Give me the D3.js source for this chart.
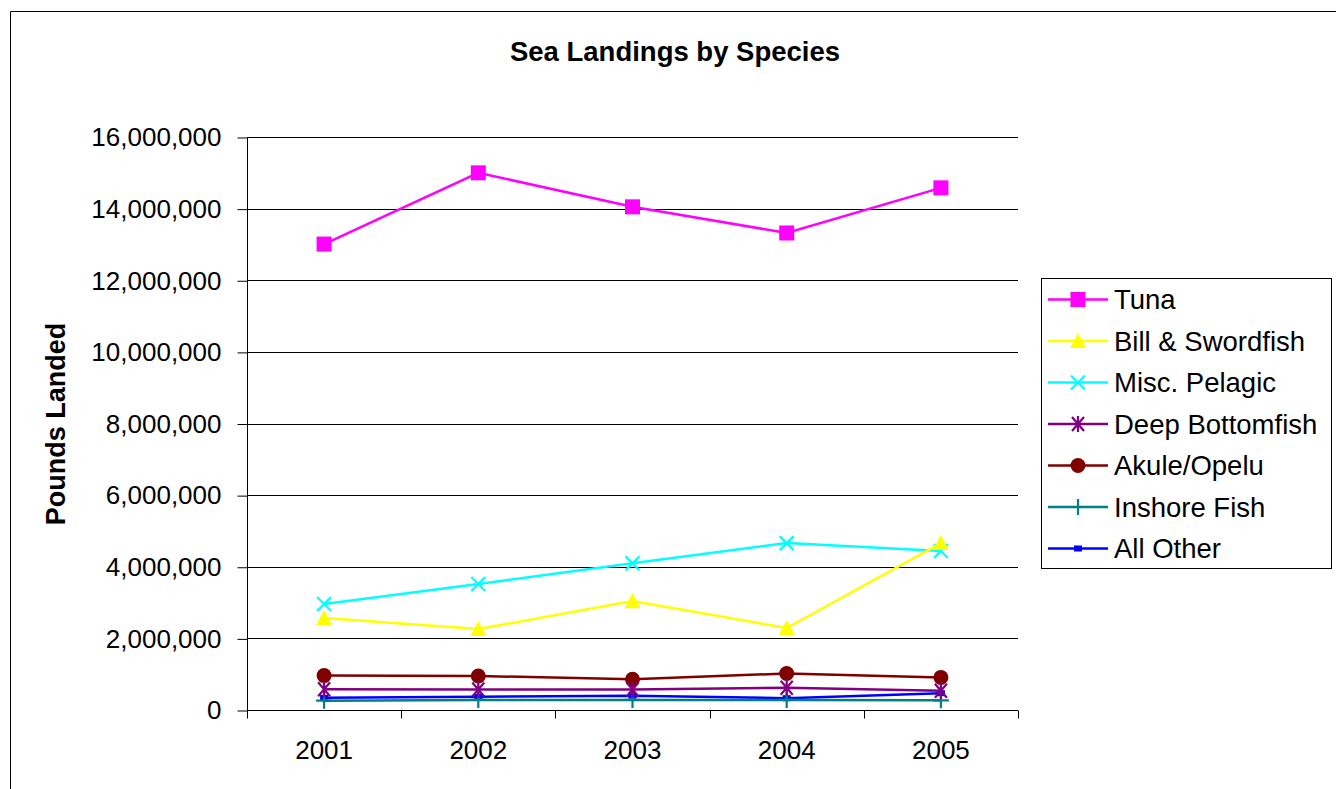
<!DOCTYPE html>
<html>
<head>
<meta charset="utf-8">
<script src="https://cdn.jsdelivr.net/npm/d3@7"></script>
<style>
  body { margin: 0; background: #fff; }
  svg { display: block; font-family: "Liberation Sans", Arial, sans-serif; }
</style>
</head>
<body>
<svg id="chart" width="1336" height="789"></svg>
<script>
// Landings data (pounds) by year
const years = ["2001", "2002", "2003", "2004", "2005"];
const tuna = [13010000, 15000000, 14050000, 13320000, 14580000];
const billSwordfish = [2570000, 2260000, 3040000, 2290000, 4660000];
const miscPelagic = [2960000, 3520000, 4100000, 4660000, 4440000];
const deepBottomfish = [580000, 570000, 570000, 620000, 540000];
const akuleOpelu = [960000, 950000, 860000, 1020000, 910000];
const inshoreFish = [260000, 280000, 280000, 280000, 270000];
const allOther = [340000, 370000, 400000, 330000, 470000];
const yTicks = [0, 2000000, 4000000, 6000000, 8000000, 10000000, 12000000, 14000000, 16000000];

const series = [
  { name: "Tuna", values: tuna, color: "#FF00FF", marker: "square" },
  { name: "Bill & Swordfish", values: billSwordfish, color: "#FFFF00", marker: "triangle" },
  { name: "Misc. Pelagic", values: miscPelagic, color: "#00FFFF", marker: "x" },
  { name: "Deep Bottomfish", values: deepBottomfish, color: "#800080", marker: "star" },
  { name: "Akule/Opelu", values: akuleOpelu, color: "#800000", marker: "circle" },
  { name: "Inshore Fish", values: inshoreFish, color: "#008080", marker: "plus" },
  { name: "All Other", values: allOther, color: "#0000FF", marker: "smallsquare" }
];

const svg = d3.select("#chart");
const plot = { left: 247, right: 1018, top: 137, bottom: 710 };

// Outer chart frame
svg.append("path")
  .attr("d", "M10.5,789 L10.5,11.5 L1336,11.5")
  .attr("fill", "none").attr("stroke", "#000").attr("stroke-width", 1);

// Title
svg.append("text")
  .attr("x", 675).attr("y", 61)
  .attr("text-anchor", "middle")
  .attr("font-size", 27.5).attr("font-weight", "bold")
  .text("Sea Landings by Species");

const x = d3.scaleBand().domain(years).range([plot.left, plot.right]);
const y = d3.scaleLinear().domain([0, 16000000]).range([plot.bottom, plot.top]);

// Horizontal gridlines
svg.append("g")
  .selectAll("line")
  .data(yTicks.slice(1))
  .join("line")
  .attr("x1", plot.left).attr("x2", plot.right)
  .attr("y1", d => Math.round(y(d)) + 0.5).attr("y2", d => Math.round(y(d)) + 0.5)
  .attr("stroke", "#000").attr("stroke-width", 1);

// Y axis
const yAxis = svg.append("g")
  .attr("transform", `translate(${plot.left + 0.5},0.5)`)
  .call(d3.axisLeft(y).tickValues(yTicks).tickSize(10).tickPadding(16).tickFormat(d3.format(",")));
yAxis.selectAll("text")
  .attr("font-size", 26).attr("fill", "#000")
  .attr("font-family", "Liberation Sans, Arial, sans-serif");
yAxis.selectAll("line, path").attr("stroke", "#000");
yAxis.select(".domain").attr("d", `M0,${plot.top} V${plot.bottom}`);

// X axis with ticks at category boundaries
const xAxisG = svg.append("g").attr("transform", `translate(0,${plot.bottom + 0.5})`);
xAxisG.append("line")
  .attr("x1", plot.left).attr("x2", plot.right)
  .attr("stroke", "#000");
const bounds = years.map(d => x(d)).concat([x(years[years.length - 1]) + x.bandwidth()]);
xAxisG.selectAll("line.tick")
  .data(bounds)
  .join("line").attr("class", "tick")
  .attr("x1", d => Math.round(d) + 0.5).attr("x2", d => Math.round(d) + 0.5)
  .attr("y1", 0).attr("y2", 8)
  .attr("stroke", "#000");
xAxisG.selectAll("text")
  .data(years)
  .join("text")
  .attr("x", d => x(d) + x.bandwidth() / 2)
  .attr("y", 48)
  .attr("text-anchor", "middle")
  .attr("font-size", 26)
  .text(d => d);

// Y axis title
svg.append("text")
  .attr("transform", "translate(65,424) rotate(-90)")
  .attr("text-anchor", "middle")
  .attr("font-size", 27).attr("font-weight", "bold")
  .text("Pounds Landed");

// Marker drawing
function drawMarker(g, type, color) {
  switch (type) {
    case "square":
      g.append("rect").attr("x", -7.5).attr("y", -7.5).attr("width", 15).attr("height", 15).attr("fill", color);
      break;
    case "triangle":
      g.append("path").attr("d", "M0,-8 L8,7 L-8,7 Z").attr("fill", color);
      break;
    case "x":
      g.append("path").attr("d", "M-7,-7 L7,7 M-7,7 L7,-7").attr("stroke", color).attr("stroke-width", 2.2);
      break;
    case "star":
      g.append("path").attr("d", "M-6,-7 L6,7 M-6,7 L6,-7 M0,-8 L0,8").attr("stroke", color).attr("stroke-width", 2.2);
      break;
    case "circle":
      g.append("circle").attr("r", 7.5).attr("fill", color);
      break;
    case "plus":
      g.append("path").attr("d", "M0,-8 L0,8 M-8,0 L8,0").attr("stroke", color).attr("stroke-width", 2.2);
      break;
    case "smallsquare":
      g.append("rect").attr("x", -4).attr("y", -3).attr("width", 8).attr("height", 6).attr("fill", color);
      break;
  }
}

const line = d3.line()
  .x((d, i) => x(years[i]) + x.bandwidth() / 2)
  .y(d => y(d));

// Draw series from back to front so earlier series sit on top
const seriesG = svg.append("g");
series.slice().reverse().forEach(s => {
  const g = seriesG.append("g");
  g.append("path")
    .attr("d", line(s.values))
    .attr("fill", "none")
    .attr("stroke", s.color)
    .attr("stroke-width", 2.5);
  s.values.forEach((v, i) => {
    const m = g.append("g")
      .attr("transform", `translate(${x(years[i]) + x.bandwidth() / 2},${y(v)})`);
    drawMarker(m, s.marker, s.color);
  });
});

// Legend
const legend = svg.append("g");
legend.append("rect")
  .attr("x", 1041.5).attr("y", 278.5).attr("width", 290).attr("height", 290)
  .attr("fill", "#fff").attr("stroke", "#000");
series.forEach((s, i) => {
  const ly = 299.5 + i * 41.5;
  const g = legend.append("g");
  g.append("line")
    .attr("x1", 1048).attr("x2", 1108).attr("y1", ly).attr("y2", ly)
    .attr("stroke", s.color).attr("stroke-width", 2.5);
  const m = g.append("g").attr("transform", `translate(1078,${ly})`);
  drawMarker(m, s.marker, s.color);
  g.append("text")
    .attr("x", 1114).attr("y", ly + 9.5)
    .attr("font-size", 27.5)
    .text(s.name);
});
</script>
</body>
</html>
